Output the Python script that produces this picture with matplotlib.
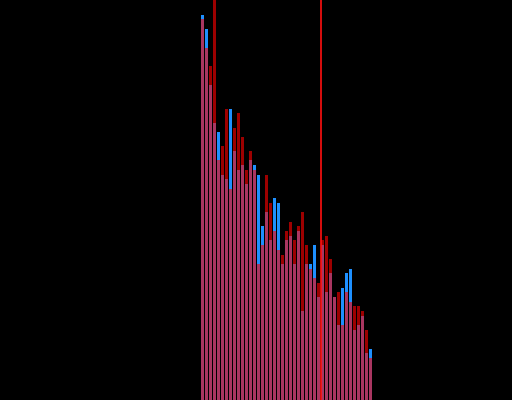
import matplotlib
matplotlib.use('Agg')
import matplotlib.pyplot as plt
import numpy as np

# bin heights (two overlapping histograms)
blue_counts = [385, 371, 315, 277, 268, 225, 221, 291, 249, 230, 235, 216, 240, 235,
               225, 174, 188, 160, 202, 197, 136, 160, 164, 136, 169, 89, 136, 136,
               155, 103, 155, 108, 127, 103, 75, 112, 127, 131, 70, 75, 84, 47, 51]
red_counts = [381, 352, 334, 430, 240, 254, 291, 211, 272, 287, 263, 230, 249, 230,
              136, 155, 225, 197, 169, 150, 145, 169, 178, 160, 174, 188, 155, 131,
              122, 117, 160, 164, 141, 103, 108, 75, 108, 98, 94, 94, 89, 70, 42]
marker_pos = 29.875

bins = np.arange(len(blue_counts))

fig = plt.figure(figsize=(5.12, 4.0), dpi=100, facecolor='black')
ax = fig.add_axes([0, 0, 1, 1])
ax.set_facecolor('black')

ax.bar(bins, blue_counts, width=0.75, align='edge', color='#1e90ff', linewidth=0)
ax.bar(bins, red_counts, width=0.75, align='edge', color='#ff0000', alpha=0.62, linewidth=0)
ax.axvline(marker_pos, color='#ff1010', linewidth=1.2)

ax.set_xlim(-50.25, 77.75)
ax.set_ylim(0, 400)
ax.axis('off')

fig.savefig('out.png', dpi=100, facecolor='black')
